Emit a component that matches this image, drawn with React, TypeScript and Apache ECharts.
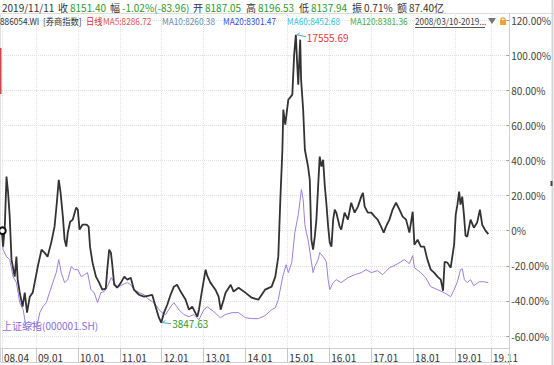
import React, { useEffect, useRef } from 'react';
import * as echarts from 'echarts';

// 886054.WI 券商指数: cumulative change (%) since 2008/03/10
const blackDates = [
  '2008-03-10','2008-03-20','2008-04-04','2008-04-19','2008-05-03','2008-05-17','2008-06-02','2008-06-30','2008-07-15','2008-07-26',
  '2008-08-13','2008-09-07','2008-09-26','2008-10-16','2008-11-09','2008-12-05','2008-12-22','2009-01-18','2009-02-20','2009-03-18',
  '2009-04-14','2009-05-16','2009-06-14','2009-07-04','2009-07-21','2009-08-06','2009-08-26','2009-09-10','2009-09-25','2009-10-08',
  '2009-10-29','2009-11-21','2009-12-20','2010-01-04','2010-01-19','2010-02-14','2010-03-22','2010-04-09','2010-04-21','2010-05-13',
  '2010-06-12','2010-07-10','2010-08-06','2010-09-06','2010-09-19','2010-10-06','2010-10-21','2010-11-02','2010-11-19','2010-12-15',
  '2011-01-17','2011-02-15','2011-03-14','2011-04-13','2011-05-11','2011-06-24','2011-08-07','2011-09-20','2011-10-18','2011-11-17',
  '2011-12-16','2012-01-05','2012-01-29','2012-02-27','2012-03-27','2012-04-25','2012-05-23','2012-06-23','2012-08-06','2012-09-04',
  '2012-10-03','2012-11-16','2012-12-01','2012-12-26','2013-01-28','2013-02-11','2013-03-11','2013-04-24','2013-05-22','2013-06-09',
  '2013-07-05','2013-07-22','2013-09-05','2013-09-30','2013-11-13','2014-01-11','2014-03-08','2014-05-05','2014-07-03','2014-08-30',
  '2014-10-01','2014-10-27','2014-11-14','2014-12-02','2014-12-10','2014-12-27','2015-01-23','2015-02-27','2015-03-15','2015-03-30',
  '2015-04-09','2015-04-20','2015-05-07','2015-05-15','2015-06-02','2015-06-17','2015-07-15','2015-07-30','2015-08-13','2015-08-28',
  '2015-09-12','2015-09-26','2015-10-11','2015-10-25','2015-11-09','2015-11-24','2015-12-09','2015-12-22','2016-01-07','2016-01-21',
  '2016-02-05','2016-02-20','2016-03-05','2016-03-18','2016-04-17','2016-05-01','2016-05-30','2016-06-28','2016-07-27','2016-08-26',
  '2016-09-24','2016-10-23','2016-11-07','2016-11-22','2016-12-20','2017-01-19','2017-02-18','2017-03-16','2017-04-15','2017-05-08',
  '2017-05-28','2017-06-27','2017-07-25','2017-08-24','2017-09-23','2017-10-21','2017-11-20','2017-12-19','2018-01-17','2018-02-01',
  '2018-03-01','2018-03-29','2018-04-28','2018-05-26','2018-06-24','2018-07-24','2018-08-22','2018-09-20','2018-10-10','2018-10-24',
  '2018-11-17','2018-12-16','2019-01-15','2019-01-29','2019-02-13','2019-02-28','2019-03-12','2019-03-27','2019-04-11','2019-04-25',
  '2019-05-10','2019-06-08','2019-07-07','2019-08-05','2019-08-29','2019-09-18','2019-10-17','2019-11-11'
];
const blackValues = [
  0, -9.1, 2.3, 30.8, 21.6, 8.0, -16.5, -26.2, -14.8, -27.9,
  -35.3, -43.3, -35.3, -46.7, -37.6, -35.3, -29.6, -20.5, -10.8, -12.5,
  -14.8, -6.8, 2.3, 15.9, 29.0, 21.6, 8.0, -5.1, -9.1, -1.1,
  5.1, 6.3, 13.1, 12.0, 0.6, 3.4, 3.4, 2.3, -9.1, -18.2,
  -26.2, -29.6, -33.6, -33.0, -22.2, -10.8, -12.5, -19.4, -30.8, -32.5,
  -29.6, -26.2, -27.9, -26.8, -33.6, -36.5, -37.6, -37.0, -36.5, -43.3,
  -49.6, -52.4, -46.7, -42.2, -36.5, -31.9, -30.8, -34.7, -39.3, -45.0,
  -43.3, -49.0, -45.0, -34.7, -22.2, -25.6, -29.6, -33.6, -37.6, -45.0,
  -39.3, -35.3, -30.8, -34.7, -32.5, -35.3, -38.2, -39.3, -33.6, -31.9,
  -26.2, -14.8, 17.7, 46.1, 68.9, 60.4, 74.6, 77.5, 100.3, 111.6,
  97.0, 83.2, 108.8, 86.0, 68.9, 46.1, 36.5, 29.0, -5.1, -10.8,
  -3.4, 6.3, 25.1, 42.2, 36.5, 40.4, 25.1, 15.9, 2.3, -6.8,
  -9.1, 6.3, 12.0, 10.3, 2.3, 0.6, 10.3, 6.3, 15.9, 10.3,
  13.7, 19.4, 21.6, 13.7, 10.3, 10.3, 8.0, 6.3, 2.3, -1.1,
  2.3, 6.3, 12.0, 15.9, 12.0, 8.0, 6.3, -1.1, 10.8, -8.0,
  -5.1, -9.1, -9.1, -16.5, -22.2, -23.9, -26.2, -27.9, -34.2, -17.7,
  -18.2, -21.1, -8.0, 9.1, 14.8, 22.2, 14.8, 19.4, 9.1, -2.8,
  -3.4, 6.3, 1.7, 4.6, 12.0, 3.4, 0.0, -2.0
];

// 上证综指(000001.SH): cumulative change (%) since 2008/03/10
const purpleDates = [
  '2008-03-10','2008-03-20','2008-04-19','2008-05-17','2008-06-16','2008-07-15','2008-08-13','2008-09-12','2008-10-11','2008-11-09',
  '2008-12-08','2009-01-07','2009-02-05','2009-03-04','2009-04-03','2009-05-01','2009-05-30','2009-06-29','2009-07-21','2009-08-12',
  '2009-09-10','2009-10-08','2009-11-08','2009-12-06','2010-01-04','2010-02-03','2010-03-02','2010-03-30','2010-04-29','2010-05-28',
  '2010-06-26','2010-07-25','2010-08-23','2010-09-20','2010-10-24','2010-11-19','2010-12-15','2011-01-17','2011-02-15','2011-03-14',
  '2011-04-13','2011-05-11','2011-06-24','2011-08-07','2011-09-20','2011-10-18','2011-11-17','2011-12-16','2012-01-12','2012-02-13',
  '2012-03-27','2012-04-25','2012-06-08','2012-07-21','2012-09-04','2012-10-17','2012-12-01','2013-01-13','2013-02-11','2013-04-09',
  '2013-06-06','2013-07-19','2013-09-16','2013-11-13','2014-01-11','2014-03-08','2014-05-05','2014-07-03','2014-08-30','2014-10-01',
  '2014-10-27','2014-12-05','2015-01-04','2015-01-23','2015-02-22','2015-03-21','2015-04-20','2015-05-18','2015-06-02','2015-06-17',
  '2015-06-30','2015-07-15','2015-08-13','2015-08-28','2015-09-12','2015-10-11','2015-10-25','2015-11-24','2015-12-22','2016-01-07',
  '2016-01-21','2016-02-20','2016-03-18','2016-05-01','2016-06-28','2016-08-26','2016-10-23','2016-12-05','2017-01-19','2017-03-16',
  '2017-04-29','2017-06-27','2017-08-24','2017-11-05','2017-12-19','2018-01-17','2018-02-01','2018-03-29','2018-05-11','2018-06-24',
  '2018-08-22','2018-10-19','2018-12-16','2019-01-15','2019-02-13','2019-03-12','2019-03-27','2019-04-15','2019-05-10','2019-06-08',
  '2019-07-07','2019-08-22','2019-10-02','2019-11-11'
];
const purpleValues = [
  0, -10.8, -14.8, -16.5, -26.2, -29.6, -41.0, -45.0, -56.4, -54.7,
  -52.4, -55.3, -46.7, -43.3, -41.0, -35.3, -29.6, -23.9, -16.5, -23.9,
  -29.6, -27.9, -20.5, -22.2, -22.2, -26.2, -25.1, -23.9, -33.6, -35.3,
  -41.0, -35.3, -34.7, -31.9, -26.8, -29.6, -31.9, -31.3, -30.2, -29.6,
  -30.8, -33.6, -35.3, -36.5, -39.3, -40.4, -42.2, -45.0, -46.7, -47.8,
  -43.3, -41.0, -45.0, -47.8, -49.0, -47.8, -50.7, -45.0, -43.3, -46.1,
  -49.6, -47.8, -46.7, -46.7, -49.6, -50.1, -50.1, -48.4, -45.0, -43.9,
  -39.3, -26.2, -19.4, -23.9, -18.2, -1.1, 9.1, 23.4, 17.7, 3.4,
  -1.1, -5.1, -17.7, -23.9, -20.5, -16.5, -12.5, -14.8, -17.7, -27.9,
  -33.6, -29.6, -27.9, -29.6, -26.8, -25.1, -23.9, -22.2, -23.9, -22.8,
  -25.1, -21.1, -19.4, -16.5, -18.8, -14.2, -21.1, -23.9, -26.8, -31.9,
  -33.6, -35.3, -37.6, -33.6, -29.1, -22.2, -21.7, -27.9, -29.6, -27.9,
  -31.3, -29.1, -29.1, -29.6
];

const xTickDates = ['2008-03-10','2009-01-01','2010-01-01','2011-01-01','2012-01-01','2013-01-01','2014-01-01',
  '2015-01-01','2016-01-01','2017-01-01','2018-01-01','2019-01-01','2019-11-11'];
const xTickLabels = ['08.04','09.01','10.01','11.01','12.01','13.01','14.01','15.01','16.01','17.01','18.01','19.01','19.11'];
const xRange = ['2008-02-22', '2020-04-16'];
const yMin = -60;
const yMax = 120;
const yStep = 20;

const seriesNames = ['886054.WI', '上证综指(000001.SH)'];
const maxPriceText = '17555.69';
const minPriceText = '3847.63';

const headerRow1: [number, string, string][] = [
  [2, '2019/11/11', '#333'], [58, '收', '#333'], [70, '8151.40', '#2f9a2f'], [110, '幅', '#333'],
  [122, '-1.02%(-83.96)', '#2f9a2f'], [193, '开', '#333'], [205, '8187.05', '#2f9a2f'], [246, '高', '#333'],
  [258, '8196.53', '#2f9a2f'], [299, '低', '#333'], [311, '8137.94', '#2f9a2f'], [352, '振', '#333'],
  [364, '0.71%', '#333'], [397, '额', '#333'], [409, '87.40亿', '#333']
];
const headerRow2: [number, string, string][] = [
  [0, '886054.WI', '#333'], [43, '[券商指数]', '#333'], [86, '日线', '#e02a2a'], [103, 'MA5:8286.72', '#e25656'],
  [162, 'MA10:8260.38', '#6a8cb8'], [223, 'MA20:8301.47', '#2f4fe0'], [287, 'MA60:8452.68', '#36c3e3'],
  [350, 'MA120:8381.36', '#45ad45'], [415, '2008/03/10-2019...', '#444']
];

const FONT = '"Noto Sans CJK SC", "Microsoft YaHei", sans-serif';
const NARROW = '"Liberation Sans Narrow", "Noto Sans CJK SC", sans-serif';

function ts(s: string): number {
  const [y, m, d] = s.split('-').map(Number);
  return new Date(y, m - 1, d).getTime();
}

export default function App() {
  const ref = useRef<HTMLDivElement>(null);
  useEffect(() => {
    const chart = echarts.init(ref.current!, null, { renderer: 'svg' });
    const tickTs = xTickDates.map(ts);
    const blackData = blackDates.map((d, i) => [ts(d), blackValues[i]]);
    const purpleData = purpleDates.map((d, i) => [ts(d), purpleValues[i]]);
    const W = 554, H = 365;
    const gridRight = 45;

    chart.setOption({
      animation: false,
      backgroundColor: '#fff',
      textStyle: { fontFamily: FONT },
      grid: [
        { left: 0, right: gridRight, top: 20, height: 316 },
        { left: 0, right: gridRight, top: 13, height: 335 }
      ],
      xAxis: [
        {
          type: 'value', gridIndex: 0, min: ts(xRange[0]), max: ts(xRange[1]),
          axisLine: { show: false }, axisTick: { show: false }, axisLabel: { show: false }, splitLine: { show: false }
        },
        {
          type: 'value', gridIndex: 1, min: ts(xRange[0]), max: ts(xRange[1]),
          axisLine: { show: false },
          axisTick: { show: true, customValues: tickTs, length: 14, lineStyle: { color: '#c8c8c8' } },
          axisLabel: {
            customValues: tickTs, align: 'left', margin: 4, padding: [0, 0, 0, 2],
            color: '#333', fontSize: 10, fontFamily: NARROW,
            formatter: (v: number) => {
              const i = tickTs.indexOf(v);
              return i >= 0 ? xTickLabels[i] : '';
            }
          },
          splitLine: { show: true, lineStyle: { color: '#e2e2e2', type: 'dotted', width: 1 } }
        }
      ],
      yAxis: [
        {
          type: 'value', gridIndex: 0, position: 'right', min: yMin, max: yMax, interval: yStep,
          axisLine: { show: false },
          axisTick: { show: true, length: 3, lineStyle: { color: '#999' } },
          axisLabel: {
            margin: 5, color: '#444', fontSize: 10, fontFamily: NARROW,
            formatter: (v: number) => (v === 0 ? '0%' : v.toFixed(2) + '%')
          },
          splitLine: { show: true, lineStyle: { color: '#e0e0e0', type: 'dotted', width: 1 } }
        },
        { type: 'value', gridIndex: 1, min: 0, max: 1, show: false }
      ],
      series: [
        {
          name: seriesNames[1], type: 'line', xAxisIndex: 0, yAxisIndex: 0, data: purpleData,
          showSymbol: false, lineStyle: { color: '#9a7fe0', width: 1 }, z: 2
        },
        {
          name: seriesNames[0], type: 'line', xAxisIndex: 0, yAxisIndex: 0, data: blackData,
          showSymbol: false, lineStyle: { color: '#333', width: 1.8 }, z: 3
        }
      ]
    });

    let maxI = 0, minI = 0;
    blackValues.forEach((v, i) => {
      if (v > blackValues[maxI]) maxI = i;
      if (v < blackValues[minI]) minI = i;
    });
    const pMax = chart.convertToPixel({ gridIndex: 0 }, blackData[maxI]) as number[];
    const pMin = chart.convertToPixel({ gridIndex: 0 }, blackData[minI]) as number[];
    const pStart = chart.convertToPixel({ gridIndex: 0 }, blackData[0]) as number[];

    const textEl = (x: number, y: number, text: string, fill: string, size = 10, scaleX = 1) => ({
      type: 'text', x, y, z: 20, scaleX,
      style: { text, fill, fontSize: size, fontFamily: FONT, verticalAlign: 'middle', align: 'left' }
    });

    const g: any[] = [];
    g.push({ type: 'line', z: 1, shape: { x1: 0, y1: 13.5, x2: W, y2: 13.5 }, style: { stroke: '#dcdcdc', lineWidth: 1 } });
    g.push({ type: 'line', z: 1, shape: { x1: 0.5, y1: 13, x2: 0.5, y2: 348 }, style: { stroke: '#e0e0e0', lineWidth: 1 } });
    g.push({ type: 'line', z: 1, shape: { x1: 509.5, y1: 13, x2: 509.5, y2: H }, style: { stroke: '#cfcfcf', lineWidth: 1 } });
    g.push({ type: 'line', z: 1, shape: { x1: 552.5, y1: 0, x2: 552.5, y2: H }, style: { stroke: '#d6d6d6', lineWidth: 2 } });
    g.push({ type: 'rect', z: 1, shape: { x: 0.5, y: 348.5, width: 509, height: 14 }, style: { fill: 'none', stroke: '#cfcfcf', lineWidth: 1 } });
    g.push({ type: 'rect', z: 5, shape: { x: 0, y: 48, width: 1.5, height: 46 }, style: { fill: '#c9484a' } });
    g.push({ type: 'rect', z: 5, shape: { x: 550.5, y: 181, width: 2, height: 5 }, style: { fill: '#444' } });
    headerRow1.forEach(([x, t, c]) => g.push(textEl(x, 7, t, c, 10)));
    headerRow2.forEach(([x, t, c]) => g.push(textEl(x, 21, t, c, 9, 0.92)));
    g.push({ type: 'line', z: 20, shape: { x1: 415, y1: 27.5, x2: 485, y2: 27.5 }, style: { stroke: '#555', lineWidth: 1 } });
    g.push({ type: 'polygon', z: 20, shape: { points: [[488, 18], [496, 18], [492, 24]] }, style: { fill: '#777' } });
    g.push({ type: 'arc', z: 20, shape: { cx: 503, cy: 20, r: 2.2, startAngle: Math.PI, endAngle: 0 }, style: { stroke: '#f0a030', lineWidth: 1.2, fill: 'none' } });
    g.push({ type: 'rect', z: 20, shape: { x: 500, y: 20, width: 6, height: 5 }, style: { fill: '#f0a030' } });
    g.push(textEl(2, 325, seriesNames[1], '#8a6ed8', 10));
    g.push({ type: 'polyline', z: 20, shape: { points: [[pMax[0] + 4, pMax[1] - 2], [pMax[0] + 1, pMax[1]], [pMax[0] + 10, pMax[1] + 2]] }, style: { stroke: '#4aa8d8', lineWidth: 1, fill: 'none' } });
    g.push(textEl(pMax[0] + 11, pMax[1] + 3, maxPriceText, '#e8383d'));
    g.push({ type: 'polyline', z: 20, shape: { points: [[pMin[0] + 4, pMin[1] - 2], [pMin[0] + 1, pMin[1]], [pMin[0] + 10, pMin[1] + 1]] }, style: { stroke: '#4aa8d8', lineWidth: 1, fill: 'none' } });
    g.push(textEl(pMin[0] + 11, pMin[1] + 1, minPriceText, '#2f9a2f'));
    g.push({ type: 'circle', z: 20, shape: { cx: pStart[0] + 0.5, cy: pStart[1], r: 3.3 }, style: { fill: '#fff', stroke: '#111', lineWidth: 2 } });

    chart.setOption({ graphic: { elements: g } });
    return () => chart.dispose();
  }, []);
  return <div ref={ref} style={{ position: 'fixed', left: 0, top: 0, width: 554, height: 365 }} />;
}
